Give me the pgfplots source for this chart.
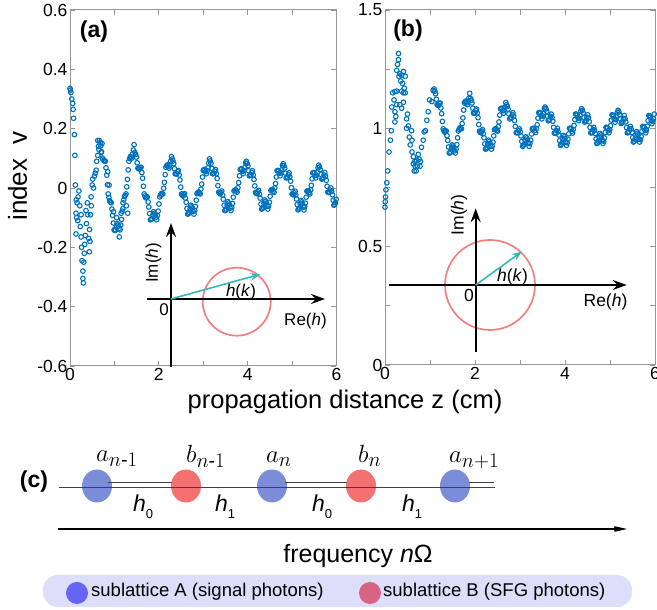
\documentclass[border=0pt]{standalone}
\usepackage{fontspec}
\setmainfont{Liberation Sans}
\usepackage{amsmath}
\usepackage{pgfplots}
\pgfplotsset{compat=1.18}
\usetikzlibrary{arrows.meta}
\definecolor{mblue}{RGB}{0,114,189}
\definecolor{axgray}{RGB}{150,150,150}
\definecolor{ccoral}{RGB}{240,128,128}
\definecolor{ccyan}{RGB}{50,185,185}
\definecolor{nodeA}{RGB}{123,140,216}
\definecolor{nodeB}{RGB}{245,112,112}
\definecolor{legA}{RGB}{100,100,245}
\definecolor{legB}{RGB}{215,100,130}
\definecolor{legbg}{RGB}{220,222,250}

\pgfplotstableread{
z v
0.000 0.336
0.010 0.330
0.020 0.322
0.040 0.300
0.060 0.285
0.070 0.265
0.080 0.235
0.100 0.180
0.110 0.110
0.120 0.010
0.135 -0.155
0.135 -0.085
0.140 -0.040
0.150 -0.100
0.160 -0.050
0.175 -0.110
0.180 -0.030
0.200 -0.010
0.220 -0.060
0.230 -0.130
0.250 -0.090
0.250 -0.165
0.260 -0.200
0.270 -0.245
0.290 -0.280
0.290 -0.305
0.300 -0.320
0.310 -0.250
0.320 -0.220
0.330 -0.190
0.345 -0.160
0.360 -0.076
0.370 -0.120
0.390 -0.050
0.400 -0.090
0.420 -0.170
0.435 -0.215
0.440 -0.140
0.450 -0.180
0.460 -0.090
0.475 -0.030
0.480 -0.060
0.500 0.010
0.510 0.030
0.530 0.000
0.550 0.040
0.570 0.050
0.590 0.060
0.600 0.090
0.625 0.110
0.625 0.160
0.640 0.140
0.650 0.130
0.660 0.160
0.693 0.142
0.727 0.101
0.760 0.092
0.793 0.090
0.827 0.043
0.860 -0.020
0.893 -0.043
0.927 -0.050
0.960 -0.092
0.993 -0.141
1.027 -0.142
1.060 -0.120
1.093 -0.128
1.127 -0.141
1.160 -0.106
1.193 -0.050
1.227 -0.029
1.260 -0.020
1.293 0.029
1.327 0.090
1.360 0.106
1.393 0.101
1.427 0.128
1.110 -0.165
1.050 -0.100
1.150 -0.085
0.980 -0.080
1.190 -0.070
1.270 -0.060
1.300 -0.085
0.850 0.055
0.880 0.010
0.720 0.150
0.700 0.120
1.460 0.120
1.495 0.104
1.530 0.067
1.565 0.064
1.600 0.070
1.635 0.033
1.670 -0.020
1.705 -0.033
1.740 -0.030
1.775 -0.064
1.810 -0.107
1.845 -0.104
1.880 -0.080
1.915 -0.090
1.950 -0.107
1.985 -0.078
2.020 -0.030
2.055 -0.019
2.090 -0.020
2.125 0.019
2.160 0.070
2.195 0.078
2.230 0.067
2.265 0.090
2.300 0.098
2.335 0.082
2.370 0.048
2.405 0.048
2.440 0.059
2.475 0.027
2.510 -0.020
2.545 -0.027
2.580 -0.019
2.615 -0.048
2.650 -0.088
2.685 -0.082
2.720 -0.058
2.755 -0.068
2.790 -0.088
2.825 -0.062
2.860 -0.019
2.895 -0.013
2.930 -0.020
2.965 0.013
3.000 0.059
3.035 0.062
3.070 0.048
3.105 0.068
3.140 0.098
3.175 0.083
3.209 0.048
3.244 0.050
3.278 0.062
3.313 0.032
3.348 -0.014
3.382 -0.020
3.417 -0.010
3.451 -0.038
3.486 -0.076
3.520 -0.071
3.555 -0.046
3.590 -0.057
3.624 -0.076
3.659 -0.052
3.693 -0.010
3.728 -0.006
3.763 -0.014
3.797 0.018
3.832 0.062
3.866 0.064
3.901 0.048
3.935 0.069
3.970 0.090
4.005 0.075
4.039 0.041
4.074 0.044
4.108 0.058
4.143 0.029
4.178 -0.015
4.212 -0.019
4.247 -0.008
4.281 -0.034
4.316 -0.071
4.350 -0.065
4.385 -0.040
4.420 -0.051
4.454 -0.071
4.489 -0.048
4.523 -0.008
4.558 -0.005
4.593 -0.015
4.627 0.015
4.662 0.058
4.696 0.058
4.731 0.041
4.765 0.061
4.800 0.082
4.833 0.067
4.867 0.034
4.900 0.037
4.933 0.051
4.967 0.023
5.000 -0.020
5.033 -0.023
5.067 -0.011
5.100 -0.037
5.133 -0.074
5.167 -0.067
5.200 -0.042
5.233 -0.053
5.267 -0.074
5.300 -0.051
5.333 -0.011
5.367 -0.009
5.400 -0.020
5.433 0.009
5.467 0.051
5.500 0.051
5.533 0.034
5.567 0.053
5.600 0.077
5.634 0.062
5.668 0.030
5.703 0.035
5.737 0.052
5.771 0.026
5.805 -0.014
5.839 -0.014
5.874 0.000
5.908 -0.023
5.942 -0.058
5.976 -0.050
0.677 0.153
0.710 0.122
0.743 0.097
0.777 0.092
0.810 0.068
0.843 0.011
0.877 -0.032
0.910 -0.047
0.943 -0.071
0.977 -0.118
1.010 -0.143
1.043 -0.132
1.077 -0.125
1.110 -0.136
1.143 -0.125
1.177 -0.078
1.210 -0.040
1.243 -0.025
1.277 0.004
1.310 0.061
1.343 0.099
1.377 0.104
1.410 0.115
1.443 0.146
1.478 0.113
1.513 0.085
1.548 0.065
1.583 0.068
1.618 0.052
1.653 0.006
1.688 -0.027
1.723 -0.031
1.758 -0.047
1.793 -0.086
1.828 -0.106
1.863 -0.092
1.898 -0.085
1.933 -0.099
1.968 -0.093
2.003 -0.054
2.038 -0.024
2.073 -0.020
2.108 -0.001
2.143 0.045
2.178 0.075
2.213 0.072
2.248 0.078
2.283 0.106
2.318 0.091
2.353 0.065
2.388 0.048
2.423 0.055
2.458 0.044
2.493 0.003
2.528 -0.024
2.563 -0.023
2.598 -0.034
2.633 -0.069
2.668 -0.086
2.703 -0.070
2.738 -0.063
2.773 -0.079
2.808 -0.076
2.843 -0.041
2.878 -0.016
2.913 -0.017
2.948 -0.004
2.983 0.037
3.018 0.062
3.053 0.055
3.088 0.058
3.123 0.084
3.157 0.091
3.192 0.066
3.226 0.049
3.261 0.057
3.296 0.048
3.330 0.008
3.365 -0.017
3.399 -0.015
3.434 -0.024
3.469 -0.058
3.503 -0.075
3.538 -0.058
3.572 -0.051
3.607 -0.068
3.642 -0.065
3.676 -0.031
3.711 -0.008
3.745 -0.010
3.780 0.001
3.815 0.041
3.849 0.064
3.884 0.056
3.918 0.059
3.953 0.084
3.987 0.083
4.022 0.058
4.056 0.043
4.091 0.052
4.126 0.044
4.160 0.007
4.195 -0.018
4.229 -0.013
4.264 -0.021
4.299 -0.054
4.333 -0.069
4.368 -0.052
4.402 -0.045
4.437 -0.062
4.472 -0.061
4.506 -0.028
4.541 -0.006
4.575 -0.011
4.610 0.000
4.645 0.037
4.679 0.059
4.714 0.050
4.748 0.051
4.783 0.076
4.817 0.075
4.850 0.050
4.883 0.035
4.917 0.045
4.950 0.038
4.983 0.001
5.017 -0.022
5.050 -0.017
5.083 -0.024
5.117 -0.056
5.150 -0.071
5.183 -0.054
5.217 -0.047
5.250 -0.064
5.283 -0.063
5.317 -0.031
5.350 -0.010
5.383 -0.015
5.417 -0.006
5.450 0.031
5.483 0.052
5.517 0.042
5.550 0.043
5.583 0.068
5.617 0.071
5.651 0.046
5.685 0.032
5.720 0.044
5.754 0.040
5.788 0.006
5.822 -0.015
5.856 -0.007
5.891 -0.011
5.925 -0.041
5.959 -0.055
5.993 -0.038
}\dataA

\pgfplotstableread{
z v
0.000 0.667
0.005 0.690
0.010 0.710
0.020 0.740
0.040 0.770
0.060 0.820
0.090 0.900
0.120 0.950
0.140 0.990
0.150 1.090
0.170 1.150
0.200 1.120
0.220 1.155
0.220 1.070
0.220 1.027
0.240 1.050
0.260 1.100
0.260 1.157
0.260 1.245
0.280 1.270
0.300 1.316
0.300 1.290
0.310 1.220
0.330 1.230
0.330 1.100
0.350 1.200
0.370 1.225
0.370 1.157
0.370 1.085
0.390 1.190
0.410 1.240
0.410 1.150
0.410 1.110
0.430 1.170
0.450 1.220
0.450 1.150
0.480 1.040
0.480 1.000
0.500 1.060
0.520 1.010
0.540 0.963
0.560 0.930
0.590 0.990
0.600 0.950
0.600 0.900
0.630 0.880
0.630 0.850
0.650 0.820
0.660 0.860
0.670 0.840
0.690 0.820
0.700 0.865
0.720 0.840
0.740 0.890
0.760 0.870
0.780 0.840
0.790 0.860
0.810 0.920
0.850 0.950
0.870 0.985
0.900 0.990
0.930 1.034
0.960 1.070
0.990 1.120
1.040 1.113
1.070 1.160
1.090 1.166
1.124 1.146
1.158 1.100
1.191 1.097
1.225 1.107
1.259 1.062
1.293 0.998
1.326 0.984
1.360 0.989
1.394 0.949
1.428 0.896
1.461 0.900
1.495 0.930
1.529 0.918
1.563 0.896
1.596 0.931
1.630 0.989
1.664 1.002
1.698 0.998
1.731 1.044
1.765 1.107
1.799 1.115
1.833 1.100
1.866 1.128
1.900 1.126
1.933 1.107
1.967 1.064
2.000 1.066
2.033 1.082
2.067 1.045
2.100 0.988
2.133 0.981
2.167 0.994
2.200 0.960
2.233 0.912
2.267 0.919
2.300 0.950
2.333 0.937
2.367 0.912
2.400 0.942
2.433 0.994
2.467 0.999
2.500 0.988
2.533 1.027
2.567 1.082
2.600 1.084
2.633 1.064
2.667 1.089
2.700 1.100
2.736 1.081
2.772 1.040
2.808 1.046
2.843 1.066
2.879 1.033
2.915 0.982
2.951 0.981
2.987 0.998
3.023 0.968
3.058 0.924
3.094 0.933
3.130 0.964
3.166 0.951
3.202 0.924
3.238 0.950
3.273 0.998
3.309 0.999
3.345 0.982
3.381 1.015
3.417 1.066
3.453 1.064
3.488 1.040
3.524 1.063
3.560 1.090
3.594 1.072
3.628 1.032
3.661 1.038
3.695 1.060
3.729 1.030
3.763 0.980
3.796 0.980
3.830 1.000
3.864 0.972
3.898 0.928
3.931 0.938
3.965 0.970
3.999 0.956
4.033 0.928
4.066 0.954
4.100 1.000
4.134 0.998
4.168 0.980
4.201 1.012
4.235 1.060
4.269 1.056
4.303 1.032
4.336 1.054
4.370 1.083
4.404 1.065
4.438 1.026
4.471 1.034
4.505 1.057
4.539 1.028
4.573 0.981
4.606 0.983
4.640 1.004
4.674 0.978
4.708 0.936
4.741 0.946
4.775 0.978
4.809 0.964
4.843 0.936
4.876 0.960
4.910 1.004
4.944 1.001
4.978 0.981
5.011 1.011
5.045 1.057
5.079 1.052
5.113 1.026
5.146 1.048
5.180 1.076
5.214 1.058
5.248 1.020
5.283 1.029
5.317 1.054
5.351 1.027
5.385 0.981
5.419 0.985
5.453 1.008
5.488 0.983
5.522 0.942
5.556 0.954
5.590 0.986
5.624 0.972
5.658 0.942
5.693 0.965
5.727 1.008
5.761 1.003
5.795 0.981
5.829 1.009
5.863 1.054
5.898 1.047
5.932 1.020
5.966 1.040
1.107 1.157
1.141 1.123
1.174 1.098
1.208 1.104
1.242 1.086
1.276 1.029
1.309 0.990
1.343 0.987
1.377 0.969
1.411 0.921
1.444 0.896
1.478 0.916
1.512 0.925
1.546 0.905
1.579 0.912
1.613 0.960
1.647 0.996
1.681 0.999
1.714 1.020
1.748 1.077
1.782 1.113
1.816 1.107
1.849 1.114
1.883 1.148
1.917 1.118
1.950 1.085
1.983 1.065
2.017 1.076
2.050 1.065
2.083 1.016
2.117 0.983
2.150 0.988
2.183 0.977
2.217 0.934
2.250 0.914
2.283 0.935
2.317 0.944
2.350 0.923
2.383 0.925
2.417 0.968
2.450 0.997
2.483 0.992
2.517 1.007
2.550 1.056
2.583 1.085
2.617 1.074
2.650 1.076
2.683 1.109
2.718 1.093
2.754 1.061
2.790 1.044
2.826 1.058
2.861 1.052
2.897 1.008
2.933 0.981
2.969 0.991
3.005 0.985
3.040 0.945
3.076 0.928
3.112 0.950
3.148 0.959
3.184 0.937
3.220 0.936
3.255 0.976
3.291 1.000
3.327 0.990
3.363 0.999
3.399 1.043
3.435 1.067
3.470 1.053
3.506 1.052
3.542 1.084
3.577 1.082
3.611 1.051
3.644 1.035
3.678 1.051
3.712 1.046
3.746 1.004
3.779 0.979
3.813 0.991
3.847 0.986
3.881 0.948
3.914 0.932
3.948 0.955
3.982 0.964
4.016 0.941
4.049 0.939
4.083 0.977
4.117 1.000
4.151 0.988
4.184 0.995
4.218 1.037
4.252 1.060
4.286 1.044
4.319 1.042
4.353 1.073
4.387 1.076
4.421 1.046
4.454 1.030
4.488 1.047
4.522 1.044
4.556 1.004
4.589 0.981
4.623 0.995
4.657 0.992
4.691 0.955
4.724 0.939
4.758 0.963
4.792 0.972
4.826 0.948
4.859 0.946
4.893 0.983
4.927 1.004
4.961 0.990
4.994 0.995
5.028 1.035
5.062 1.056
5.096 1.039
5.129 1.037
5.163 1.067
5.197 1.069
5.231 1.039
5.265 1.024
5.300 1.042
5.334 1.041
5.368 1.003
5.402 0.982
5.436 0.998
5.470 0.997
5.505 0.961
5.539 0.946
5.573 0.970
5.607 0.979
5.641 0.955
5.675 0.952
5.710 0.988
5.744 1.007
5.778 0.991
5.812 0.994
5.846 1.032
5.880 1.051
5.915 1.033
5.949 1.030
5.983 1.060
}\dataB

\pgfplotsset{panel/.style={
  scale only axis, anchor=south west,
  xmin=0, xmax=6,
  axis line style={axgray, line width=1pt},
  tick style={axgray, line width=0.8pt},
  major tick length=5pt, tick align=inside,
  xtick={0,1,2,3,4,5,6}, xticklabels={0,,2,,4,,6},
  tick label style={font=\fontsize{17.5}{17.5}\selectfont, text=black},
  /pgf/number format/assume math mode=true,
  xticklabel style={yshift=1pt},
  yticklabel style={xshift=1pt},
}}
\pgfplotsset{datamarks/.style={only marks, mark=o, mark size=2.3pt, color=mblue, mark options={line width=1.1pt}}}

\begin{document}
\begin{tikzpicture}
\useasboundingbox (0,0) rectangle (657pt,610pt);

\begin{axis}[panel, at={(70pt,244pt)}, width=266.5pt, height=356pt,
  ymin=-0.6, ymax=0.6,
  ytick={-0.6,-0.4,-0.2,0,0.2,0.4,0.6},
  yticklabels={-0.6,-0.4,-0.2,0,0.2,0.4,0.6}]
\addplot[datamarks] table[x=z,y=v] {\dataA};
\end{axis}

\begin{axis}[panel, at={(385pt,245pt)}, width=270pt, height=355pt,
  ymin=0, ymax=1.5,
  ytick={0,0.25,0.5,0.75,1,1.25,1.5},
  yticklabels={0,,0.5,,1,,1.5}]
\addplot[datamarks] table[x=z,y=v] {\dataB};
\end{axis}

\begin{scope}[shift={(0,610pt)}, x=1pt, y=-1pt]
% labels
\node[rotate=90, anchor=base, inner sep=0, font=\fontsize{26}{26}\selectfont] at (27,176) {index\hspace{0.55em}v};
\node[anchor=base, inner sep=0, font=\fontsize{25.5}{26}\selectfont] at (345,409) {propagation distance z (cm)};
\node[inner sep=0, font=\bfseries\fontsize{23}{23}\selectfont] at (94,32) {(a)};
\node[inner sep=0, font=\bfseries\fontsize{23}{23}\selectfont] at (408,31) {(b)};

% inset a
\draw[ccoral, line width=1.7pt] (236.7,301.7) circle[radius=34pt];
\draw[black, line width=2pt, -{Stealth[length=14pt,width=10pt,inset=5pt]}] (171,367) -- (171,223);
\draw[black, line width=2pt, -{Stealth[length=14pt,width=10pt,inset=5pt]}] (147,299) -- (325,299);
\draw[ccyan, line width=1.6pt, -{Stealth[length=10pt,width=8pt,inset=4pt]}] (171,299) -- (260,274.3);
\begin{scope}[every node/.style={inner sep=0, font=\fontsize{17}{17}\selectfont}]
\node[rotate=90] at (153.5,263) {Im(\textit{h})};
\node at (164,310) {0};
\node at (305.5,321) {Re(\textit{h})};
\node at (241,292) {\textit{h}(\textit{k})};
\end{scope}

% inset b
\draw[ccoral, line width=1.7pt] (490,285) circle[radius=45pt];
\draw[black, line width=2pt, -{Stealth[length=14pt,width=10pt,inset=5pt]}] (475.7,351.7) -- (475.7,208.3);
\draw[black, line width=2pt, -{Stealth[length=14pt,width=10pt,inset=5pt]}] (389.3,285) -- (626.7,285);
\draw[ccyan, line width=1.6pt, -{Stealth[length=10pt,width=8pt,inset=4pt]}] (475.7,285) -- (521.7,251.7);
\begin{scope}[every node/.style={inner sep=0, font=\fontsize{17.5}{17.5}\selectfont}]
\node[rotate=90] at (459,215) {Im(\textit{h})};
\node at (469,295) {0};
\node at (605.5,302) {Re(\textit{h})};
\node at (512.5,277) {\textit{h}(\textit{k})};
\end{scope}

% panel c
\node[inner sep=0, font=\bfseries\fontsize{23}{23}\selectfont] at (34,482) {(c)};
\foreach \xx/\cc in {97/nodeA,186/nodeB,272/nodeA,361/nodeB,455/nodeA}
  \fill[\cc] (\xx,486) ellipse[x radius=15pt, y radius=16.5pt];
\draw[black!75, line width=0.9pt] (59,487) -- (495,487);
\draw[black!75, line width=0.9pt] (108,482)--(172,482) (285,482)--(347,482) (469,482)--(494,482);
\begin{scope}[every node/.style={anchor=base west, inner sep=0, font=\fontsize{28}{28}\selectfont}]
\node at (96,462) {$a_{n\text{-}1}$};
\node at (186,463) {$b_{n\text{-}1}$};
\node at (266,463) {$a_{n}$};
\node at (358,463) {$b_{n}$};
\node at (449,463) {$a_{n+1}$};
\end{scope}
\begin{scope}[every node/.style={anchor=base west, inner sep=0, font=\fontsize{23}{23}\selectfont}]
\node at (133,512) {\textit{h}\raisebox{-0.28em}{\fontsize{13}{13}\selectfont 0}};
\node at (215,512) {\textit{h}\raisebox{-0.28em}{\fontsize{13}{13}\selectfont 1}};
\node at (312,512) {\textit{h}\raisebox{-0.28em}{\fontsize{13}{13}\selectfont 0}};
\node at (402,512) {\textit{h}\raisebox{-0.28em}{\fontsize{13}{13}\selectfont 1}};
\end{scope}
\draw[black, line width=1.6pt, -{Stealth[length=20pt,width=9pt,inset=10pt]}] (58,529) -- (627,529);
\node[anchor=base, inner sep=0, font=\fontsize{25}{25}\selectfont] at (358,563) {frequency \textit{n}Ω};

% legend
\fill[legbg, rounded corners=15pt] (43,575) rectangle (632,607);
\fill[legA] (77,593) circle[radius=11pt];
\fill[legB] (370,593) circle[radius=11pt];
\node[anchor=west, inner sep=0, font=\fontsize{18.5}{18.5}\selectfont] at (91,592) {sublattice A (signal photons)};
\node[anchor=west, inner sep=0, font=\fontsize{18.5}{18.5}\selectfont] at (383,592) {sublattice B (SFG photons)};
\end{scope}
\end{tikzpicture}
\end{document}
